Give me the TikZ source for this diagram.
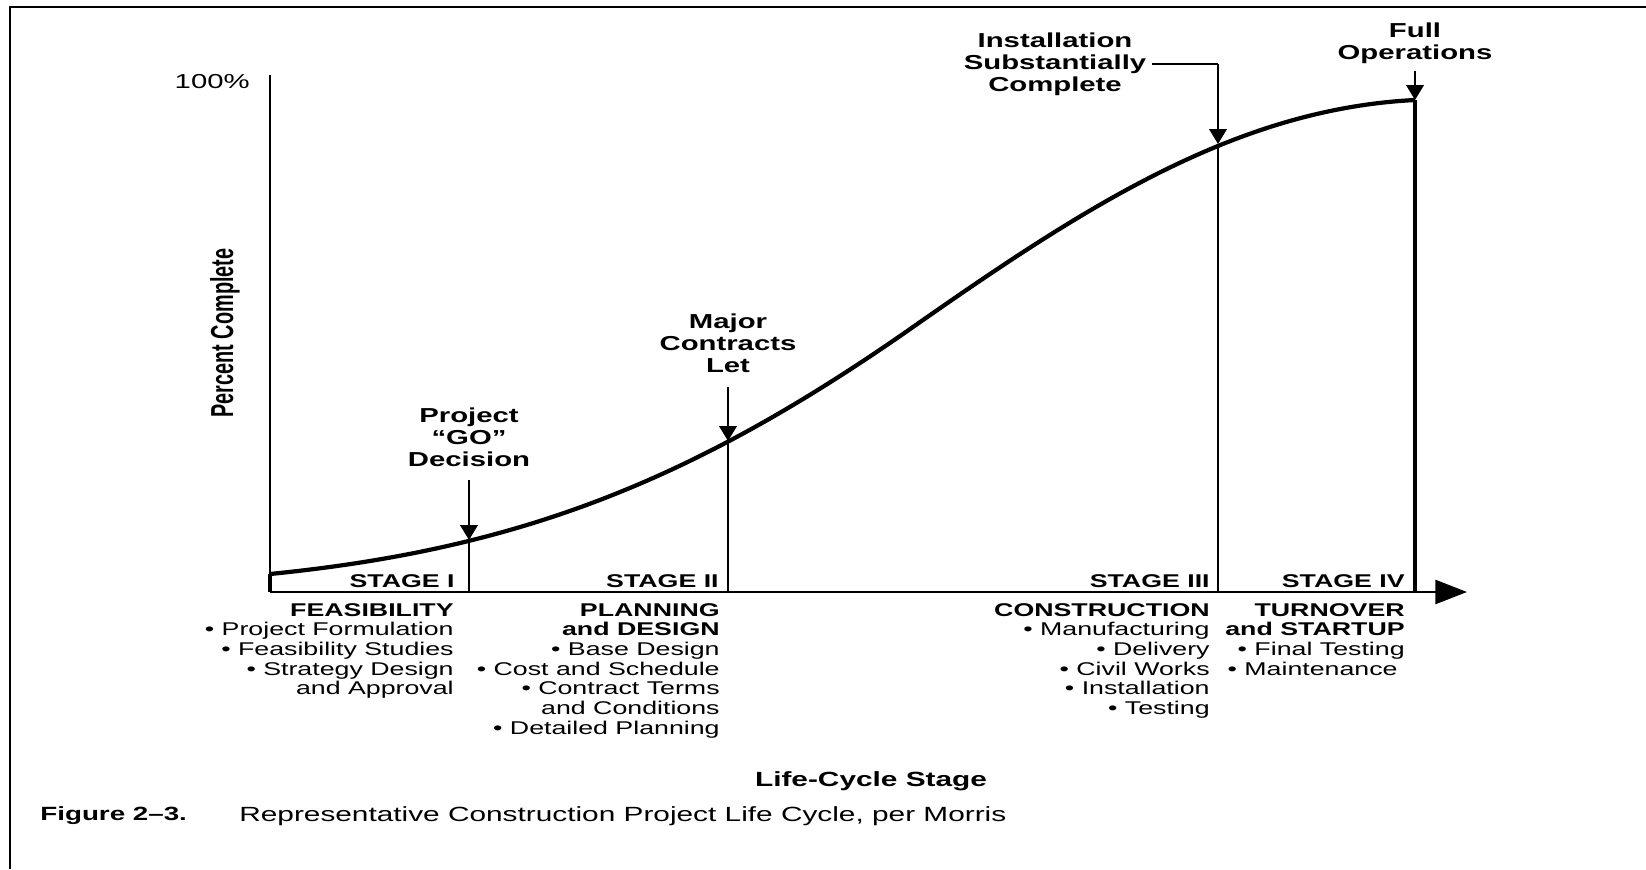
\documentclass[tikz,border=0pt]{standalone}
\usepackage{fontspec}
\usepackage{graphicx}
\setmainfont{Liberation Sans}[FakeStretch=1.45]
\newfontfamily\narrowsans{Liberation Sans}
\usetikzlibrary{arrows.meta}

\begin{document}
\begin{tikzpicture}[x=0.02cm, y=-0.02cm,
  curve/.style={line width=2.4pt},
  axis/.style={line width=1.6pt},
  divider/.style={line width=1.1pt},
  pointer/.style={line width=1.1pt, -{Triangle[length=8.5pt, width=10pt]}},
  note/.style={font=\fontsize{11.5}{12.5}\selectfont\bfseries, align=center},
  stagelabel/.style={font=\fontsize{10.5}{11.2}\selectfont\bfseries, anchor=base east, inner sep=0pt},
  listblock/.style={font=\fontsize{10.5}{11.2}\selectfont, align=right, anchor=north east, inner sep=0pt}]
\useasboundingbox (0,0) rectangle (1646,869);
\draw[line width=1.7pt] (10,869) -- (10,7) -- (1646,7);
\coordinate (o) at (270,592);
\coordinate (ytop) at (270,75);
\coordinate (xend) at (1467,592);
\coordinate (gopt) at (469,540);
\coordinate (majorpt) at (728,441);
\coordinate (instpt) at (1218,144);
\coordinate (fullpt) at (1415,100);
\draw[line width=1.4pt] (ytop) -- (o);
\draw[axis, -{Triangle[length=18pt, width=13.6pt]}] (o) -- (xend);
\draw[curve] (o) -- (270,574);
\draw[curve] (270,574) .. controls (520,549) and (693,481) .. (913,327)
  .. controls (1083,208) and (1235,109) .. (fullpt);
\draw[line width=2.8pt] (fullpt) -- (fullpt |- o);
\draw[divider] (gopt) -- (gopt |- o);
\draw[divider] (majorpt) -- (majorpt |- o);
\draw[divider] (instpt) -- (instpt |- o);

\node[anchor=east, inner sep=0pt, font=\fontsize{11.5}{12}\selectfont] (top) at (250,82) {100\%};
\node[rotate=90, font=\narrowsans\fontsize{11.3}{12}\selectfont\bfseries] (ylabel) at (225,333) {\scalebox{1}[1.6]{Percent Complete}};

\node[note] (go) at (469,437) {Project\\``GO''\\Decision};
\node[note] (major) at (728,343) {Major\\Contracts\\Let};
\node[note] (inst) at (1055,64) {Installation\\Substantially\\Complete};
\node[note] (full) at (1415,43) {Full\\Operations};
\draw[pointer, shorten <=4pt] (go) -- (gopt);
\draw[pointer, shorten <=5pt] (major) -- (majorpt);
\draw[line width=0.6pt] (inst.east) -- (inst.east -| instpt);
\draw[pointer] (inst.east -| instpt) -- (instpt);
\draw[pointer, shorten <=1pt] (full) -- (fullpt);

\node[stagelabel] (s1) at (455,587) {STAGE I};
\node[stagelabel] (s2) at (719,587) {STAGE II};
\node[stagelabel] (s3) at (1210,587) {STAGE III};
\node[stagelabel] (s4) at (1405,587) {STAGE IV};

\node[listblock] (feas) at (454,603) {{\bfseries FEASIBILITY}\\• Project Formulation\\• Feasibility Studies\\• Strategy Design\\and Approval};
\node[listblock] (plan) at (720,603) {{\bfseries PLANNING}\\{\bfseries and DESIGN}\\• Base Design\\• Cost and Schedule\\• Contract Terms\\and Conditions\\• Detailed Planning};
\node[listblock] (cons) at (1210,603) {{\bfseries CONSTRUCTION}\\• Manufacturing\\• Delivery\\• Civil Works\\• Installation\\• Testing};
\node[listblock] (turn) at (1405,603) {{\bfseries TURNOVER}\\{\bfseries and STARTUP}\\• Final Testing\\• Maintenance\hspace*{4pt}};

\node[font=\fontsize{11.7}{12}\selectfont\bfseries] (xlabel) at (871,781) {Life-Cycle Stage};
\node[anchor=west, inner sep=0pt, font=\fontsize{10.9}{12}\selectfont\bfseries] (figno) at (40,816) {Figure 2--3.};
\node[anchor=west, inner sep=0pt, font=\fontsize{11.7}{12}\selectfont] (caption) at (239,816) {Representative Construction Project Life Cycle, per Morris};
\end{tikzpicture}
\end{document}
